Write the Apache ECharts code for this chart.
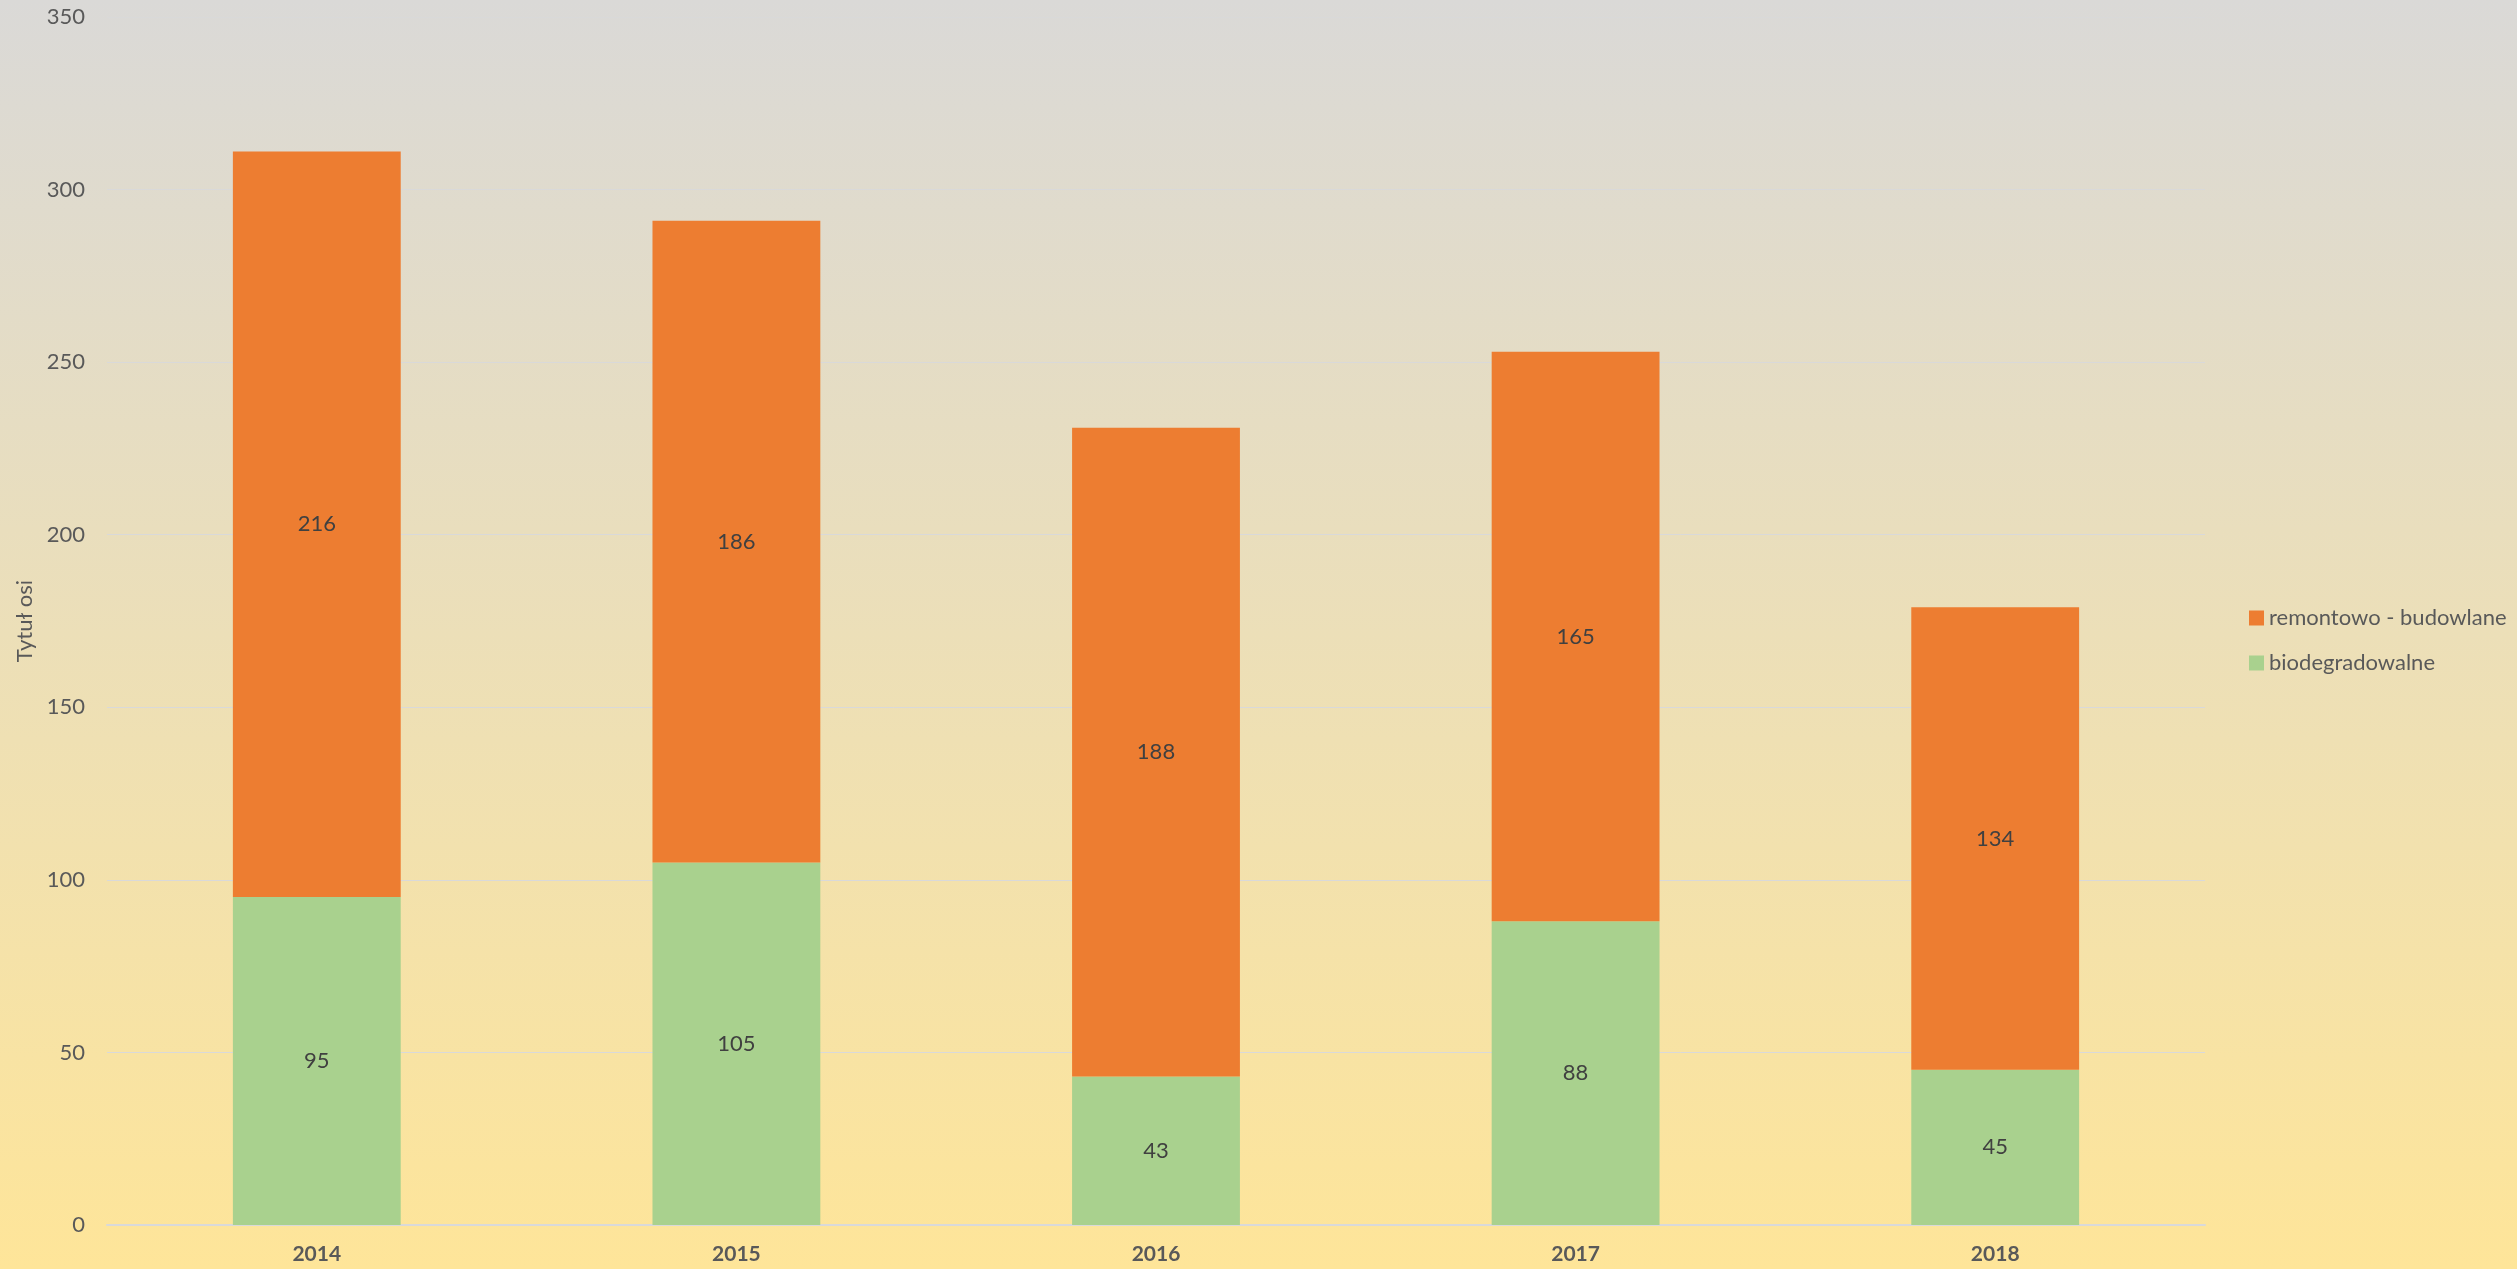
<!DOCTYPE html>
<html>
<head>
<meta charset="utf-8">
<script src="https://cdn.jsdelivr.net/npm/echarts@6/dist/echarts.min.js"></script>
<style>
	html, body { margin: 0; padding: 0; }
	#myCharts {
		width: 2517px;
		height: 1269px;
		background: linear-gradient(to bottom, #dad9d7 0%, #fee599 100%);
	}
</style>
</head>
<body>
<div id="myCharts"></div>
<script>
	// dane z wykresu
	var years = ['2014', '2015', '2016', '2017', '2018'];
	var biodegradowalne = [95, 105, 43, 88, 45];
	var remontowe = [216, 186, 188, 165, 134];

	var labelStyle = {
		show: true,
		position: 'inside',
		color: '#404040',
		fontSize: 22,
		fontFamily: 'Lato'
	};

	var option = {
		textStyle: { fontFamily: 'Lato' },
		grid: {
			left: 107,
			right: 312,
			top: 17,
			bottom: 44
		},
		legend: {
			orient: 'vertical',
			left: 2244,
			top: 602,
			itemWidth: 15,
			itemHeight: 15,
			itemGap: 23,
			icon: 'rect',
			textStyle: { color: '#595959', fontSize: 22, fontFamily: 'Lato' },
			data: ['remontowo - budowlane', 'biodegradowalne']
		},
		xAxis: {
			type: 'category',
			data: years,
			axisLine: { lineStyle: { color: '#d9d9d9', width: 2 } },
			axisTick: { show: false },
			axisLabel: {
				color: '#595959',
				fontSize: 21,
				fontWeight: 'bold',
				margin: 19
			}
		},
		yAxis: {
			type: 'value',
			min: 0,
			max: 350,
			interval: 50,
			name: 'Tytuł osi',
			nameLocation: 'middle',
			nameGap: 70,
			nameTextStyle: { color: '#595959', fontSize: 22 },
			axisLine: { show: false },
			axisTick: { show: false },
			splitLine: { lineStyle: { color: '#d9d9d9', width: 1 } },
			axisLabel: { color: '#595959', fontSize: 22, margin: 22 }
		},
		series: [
			{
				name: 'biodegradowalne',
				type: 'bar',
				stack: 'total',
				barWidth: '40%',
				itemStyle: { color: '#a9d18e' },
				label: labelStyle,
				data: biodegradowalne
			},
			{
				name: 'remontowo - budowlane',
				type: 'bar',
				stack: 'total',
				barWidth: '40%',
				itemStyle: { color: '#ed7d31' },
				label: labelStyle,
				data: remontowe
			}
		]
	};

	var mychart = echarts.init(document.getElementById('myCharts'));
	mychart.setOption(option);
	window.onresize = mychart.resize;
</script>
</body>
</html>
